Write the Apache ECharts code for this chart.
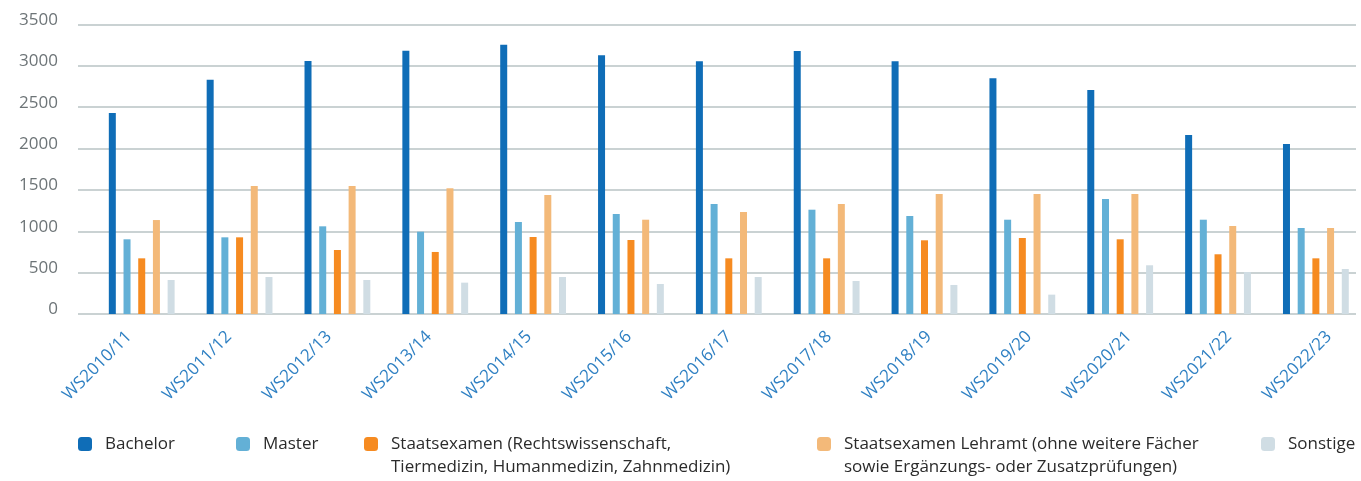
<!DOCTYPE html>
<html>
<head>
<meta charset="utf-8">
<script src="https://cdn.jsdelivr.net/npm/echarts@6/dist/echarts.min.js"></script>
<style>
  html, body { margin: 0; padding: 0; background: #fff; }
  #main { width: 1361px; height: 481px; }
</style>
</head>
<body>
<div id="main"></div>
<script>
const semesters = ['WS2010/11', 'WS2011/12', 'WS2012/13', 'WS2013/14', 'WS2014/15', 'WS2015/16', 'WS2016/17',
  'WS2017/18', 'WS2018/19', 'WS2019/20', 'WS2020/21', 'WS2021/22', 'WS2022/23'];

const bachelor = [2430, 2833, 3059, 3184, 3256, 3127, 3055, 3180, 3055, 2850, 2708, 2164, 2055];
const master = [903, 927, 1060, 995, 1112, 1209, 1330, 1261, 1185, 1140, 1390, 1140, 1040];
const staatsexamen = [673, 927, 774, 750, 931, 895, 673, 673, 891, 919, 903, 722, 673];
const lehramt = [1136, 1548, 1548, 1520, 1439, 1140, 1233, 1330, 1451, 1451, 1451, 1064, 1040];
const sonstige = [411, 447, 411, 379, 447, 363, 447, 399, 351, 234, 589, 508, 544];

const names = [
  'Bachelor',
  'Master',
  'Staatsexamen (Rechtswissenschaft,\nTiermedizin, Humanmedizin, Zahnmedizin)',
  'Staatsexamen Lehramt (ohne weitere Fächer\nsowie Ergänzungs- oder Zusatzprüfungen)',
  'Sonstige'
];
const values = [bachelor, master, staatsexamen, lehramt, sonstige];
const colors = ['#0f6db7', '#63b0d6', '#f68b21', '#f3b979', '#d0dde4'];

const font = '"Open Sans", "Noto Sans", sans-serif';

// legend position of each item (marker left edge)
const legendLeft = [78, 236, 364, 817, 1261];

const chart = echarts.init(document.getElementById('main'));

const legends = names.map((n, i) => {
  const twoLines = n.indexOf('\n') >= 0;
  return {
    data: [n],
    left: legendLeft[i],
    top: twoLines ? 409.5 : 432.5,
    padding: 0,
    icon: 'roundRect',
    itemWidth: 14,
    itemHeight: 14,
    selectedMode: false,
    // empty first line so the marker sits next to the first text line
    formatter: twoLines ? (name) => '\n' + name : '{name}',
    textStyle: {
      fontFamily: font,
      fontSize: 17,
      color: '#2b2b2b',
      lineHeight: 23,
      padding: [0, 0, 0, 8]
    }
  };
});

chart.setOption({
  animation: false,
  color: colors,
  legend: legends,
  grid: [
    // gridlines and value labels
    { left: 78, width: 1278, top: 24.5, height: 289.5, outerBoundsMode: 'none' },
    // bars
    { left: 92.8, width: 1272, top: 24.5, height: 289.5, outerBoundsMode: 'none' },
    // category labels
    { left: 79, width: 1300, top: 24.5, height: 289.5, outerBoundsMode: 'none' }
  ],
  xAxis: [
    { gridIndex: 0, type: 'category', data: semesters, show: false },
    { gridIndex: 1, type: 'category', data: semesters, show: false },
    {
      gridIndex: 2,
      type: 'category',
      data: semesters,
      axisLine: { show: false },
      axisTick: { show: false },
      axisLabel: {
        rotate: 45,
        margin: 20,
        interval: 0,
        color: '#2f80c3',
        fontFamily: font,
        fontSize: 17
      }
    }
  ],
  yAxis: [
    {
      gridIndex: 0,
      type: 'value',
      min: 0,
      max: 3500,
      interval: 500,
      axisLine: { show: false },
      axisTick: { show: false },
      splitLine: { lineStyle: { color: '#b9c3c5', width: 1.5 } },
      axisLabel: {
        margin: 20,
        color: '#6d7477',
        fontFamily: font,
        fontSize: 17,
        verticalAlign: 'bottom',
        lineHeight: 9,
        formatter: (v) => String(v)
      }
    },
    { gridIndex: 1, type: 'value', min: 0, max: 3500, interval: 500, show: false, splitLine: { show: false } },
    { gridIndex: 2, type: 'value', min: 0, max: 3500, interval: 500, show: false, splitLine: { show: false } }
  ],
  series: names.map((n, i) => ({
    name: n,
    type: 'bar',
    xAxisIndex: 1,
    yAxisIndex: 1,
    barWidth: 7,
    barGap: '110%',
    data: values[i]
  }))
});
</script>
</body>
</html>
